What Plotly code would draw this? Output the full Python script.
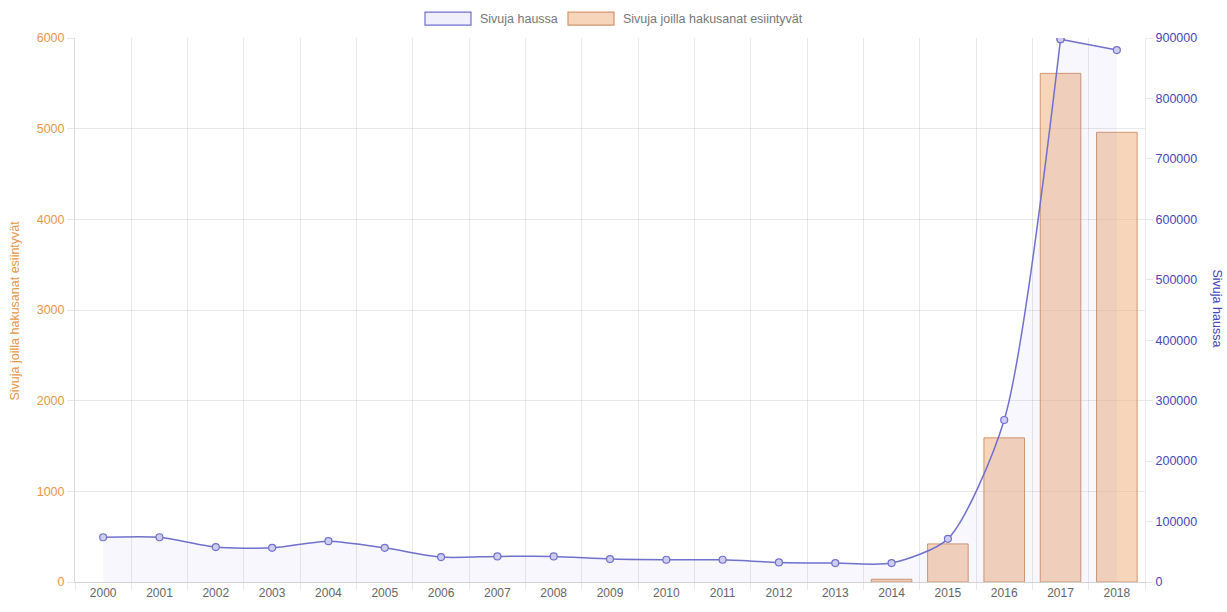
import plotly.graph_objects as go

# Years on the category axis
years = [str(y) for y in range(2000, 2019)]

# Pages in the search (right axis)
sivuja_haussa = [74000, 74000, 57700, 56500, 67600, 56500, 41200, 42300, 42300,
                 37900, 36800, 36800, 32400, 31300, 31300, 71400, 268000, 898000, 880000]

# Pages where the search terms occur (left axis); empty before 2014
sivuja_osumat = [None] * 14 + [30, 420, 1590, 5610, 4960]

left_ticks = [0, 1000, 2000, 3000, 4000, 5000, 6000]
right_ticks = [0, 100000, 200000, 300000, 400000, 500000, 600000, 700000, 800000, 900000]

W, H = 1227, 612
L, R, T, B = 75, 82, 38, 27
PW, PH = W - L - R, H - T - B

ORANGE = "rgb(232,150,72)"
BLUE = "rgb(70,70,185)"
LINE = "rgb(112,112,205)"
GRID = "rgba(0,0,0,0.09)"
FONT = "Liberation Sans, Arial, sans-serif"
BAR_FILL = "rgba(240,172,118,0.5)"
BAR_EDGE = "rgb(210,150,110)"
AREA_FILL = "rgba(120,120,220,0.06)"


def px(x):
    return (x - L) / PW


def py(y):
    return (H - B - y) / PH


fig = go.Figure()

fig.add_trace(go.Bar(
    x=years, y=sivuja_osumat, yaxis="y",
    name="Sivuja joilla hakusanat esiintyvät",
    marker=dict(color=BAR_FILL, line=dict(color=BAR_EDGE, width=1)),
    showlegend=False,
))

# The smooth part of the series up to the peak, then the last step drawn
# straight so the curve stays inside the axis range at the top.
split = 17
line_parts = [
    (years[:split + 1], sivuja_haussa[:split + 1], "spline"),
    (years[split:], sivuja_haussa[split:], "linear"),
]
for xs, ys, shape in line_parts:
    fig.add_trace(go.Scatter(
        x=xs, y=ys, yaxis="y2",
        name="Sivuja haussa", mode="lines+markers",
        line=dict(color=LINE, width=1.5, shape=shape, smoothing=0.7),
        marker=dict(size=7, color="rgb(205,205,240)",
                    line=dict(color=LINE, width=1.2)),
        fill="tozeroy", fillcolor=AREA_FILL,
        showlegend=False,
    ))

# Legend drawn as boxes with labels above the plot
legend_items = [
    (425, 471, 478, "Sivuja haussa", "rgba(120,120,220,0.12)", LINE),
    (568, 614, 621, "Sivuja joilla hakusanat esiintyvät", BAR_FILL, BAR_EDGE),
]
shapes = []
annotations = []
for x0, x1, tx, label, fillc, linec in legend_items:
    shapes.append(dict(type="rect", xref="paper", yref="paper",
                       x0=px(x0), x1=px(x1), y0=py(25), y1=py(12),
                       fillcolor=fillc, line=dict(color=linec, width=1.2)))
    annotations.append(dict(xref="paper", yref="paper", x=px(tx), y=py(18.5),
                            xanchor="left", yanchor="middle", showarrow=False,
                            text=label, font=dict(size=12.5, color="#777", family=FONT)))

annotations.append(dict(xref="paper", yref="paper", x=px(15), y=py(312),
                        xanchor="center", yanchor="middle", showarrow=False,
                        textangle=-90, text="Sivuja joilla hakusanat esiintyvät",
                        font=dict(size=12.5, color=ORANGE, family=FONT)))
annotations.append(dict(xref="paper", yref="paper", x=px(1217), y=py(310),
                        xanchor="center", yanchor="middle", showarrow=False,
                        textangle=90, text="Sivuja haussa",
                        font=dict(size=12.5, color=BLUE, family=FONT)))

fig.update_layout(
    width=W, height=H,
    margin=dict(l=L, r=R, t=T, b=B, pad=0),
    paper_bgcolor="white", plot_bgcolor="white",
    font=dict(family=FONT, size=12, color="#666"),
    bargap=0.28,
    showlegend=False,
    shapes=shapes,
    annotations=annotations,
    xaxis=dict(
        type="category", tickson="boundaries",
        categoryorder="array", categoryarray=years,
        showgrid=True, gridcolor=GRID, gridwidth=1,
        ticks="outside", ticklen=7, tickcolor=GRID,
        showline=True, linecolor="rgba(0,0,0,0.18)",
        tickfont=dict(size=12, color="#666"),
        range=[-0.5, 18.5], zeroline=False,
    ),
    yaxis=dict(
        range=[0, 6000], tickvals=left_ticks,
        showgrid=True, gridcolor=GRID, gridwidth=1,
        ticks="outside", ticklen=7, tickcolor=GRID,
        showline=True, linecolor="rgba(0,0,0,0.14)",
        zeroline=False,
        tickfont=dict(size=12.5, color=ORANGE),
    ),
    yaxis2=dict(
        range=[0, 900000], tickvals=right_ticks, tickformat="d",
        overlaying="y", side="right",
        showgrid=False, zeroline=False,
        ticks="outside", ticklen=7, tickcolor=GRID,
        showline=True, linecolor="rgba(0,0,0,0.08)",
        tickfont=dict(size=12.5, color=BLUE),
    ),
)

fig.write_html("out.html")
